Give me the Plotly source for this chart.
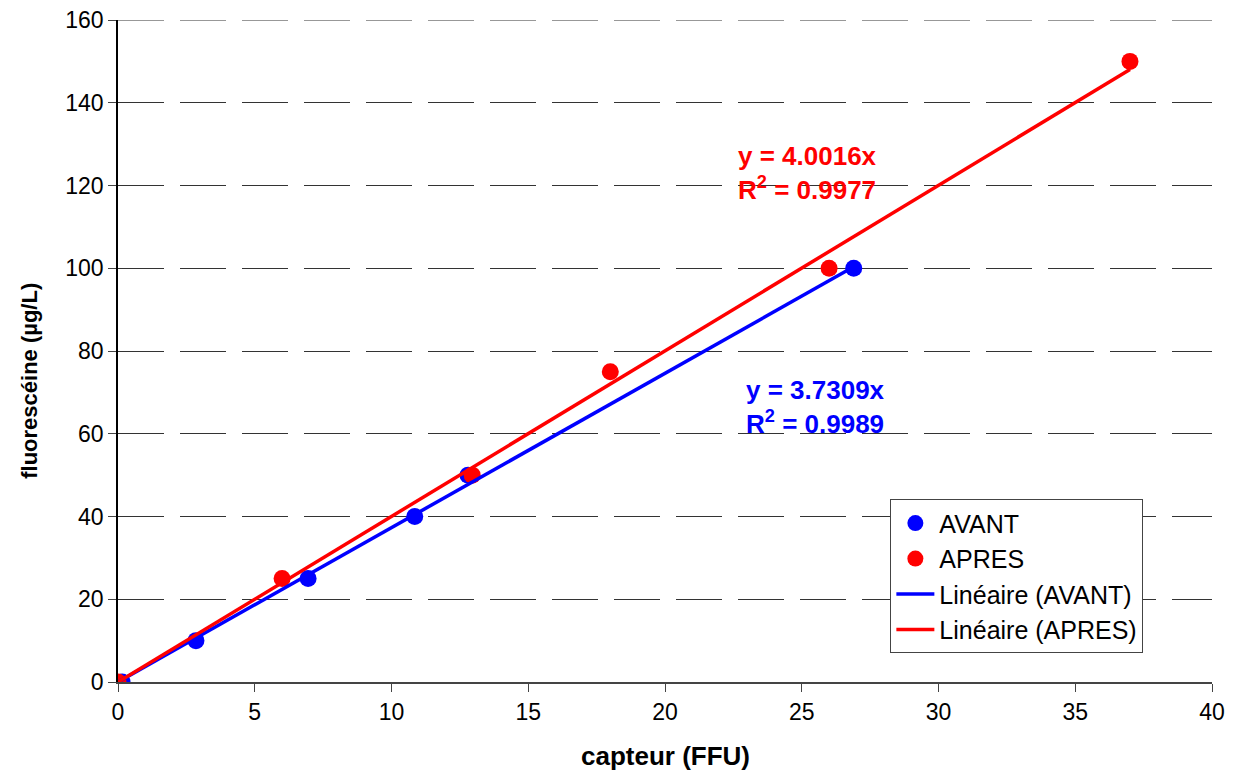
import plotly.graph_objects as go

avant_x = [0.15, 2.85, 6.95, 10.85, 12.8, 26.9]
avant_y = [0, 10, 25, 40, 50, 100]
apres_x = [0.0, 6.0, 12.95, 18.0, 26.0, 37.0]
apres_y = [0, 25, 50, 75, 100, 150]
slope_avant = 3.7309
slope_apres = 4.0016
r2_avant = 0.9989
r2_apres = 0.9977
x_ticks = [0, 5, 10, 15, 20, 25, 30, 35, 40]
y_ticks = [0, 20, 40, 60, 80, 100, 120, 140, 160]

fit_avant_x = [0, max(avant_x)]
fit_avant_y = [slope_avant * v for v in fit_avant_x]
fit_apres_x = [0, max(apres_x)]
fit_apres_y = [slope_apres * v for v in fit_apres_x]

font = "Liberation Sans, Arial, sans-serif"

fig = go.Figure()
fig.add_trace(go.Scatter(x=avant_x, y=avant_y, mode="markers", name="AVANT",
                         marker=dict(color="#0000ff", size=17), legendrank=1))
fig.add_trace(go.Scatter(x=apres_x, y=apres_y, mode="markers", name="APRES",
                         marker=dict(color="#ff0000", size=17), legendrank=2))
fig.add_trace(go.Scatter(x=fit_avant_x, y=fit_avant_y, mode="lines", name="Linéaire (AVANT)",
                         line=dict(color="#0000ff", width=3.5), legendrank=3))
fig.add_trace(go.Scatter(x=fit_apres_x, y=fit_apres_y, mode="lines", name="Linéaire (APRES)",
                         line=dict(color="#ff0000", width=3.5), legendrank=4))

# top gridline (plotly omits it at the range edge)
fig.add_shape(type="line", xref="paper", yref="y", x0=0, x1=1, y0=y_ticks[-1], y1=y_ticks[-1],
              line=dict(color="#333", width=1, dash="46px,16px"), layer="below")

fig.add_annotation(x=25.2, y=123, xref="x", yref="y", showarrow=False, align="left",
                   text=f"<b>y = {slope_apres:.4f}x<br>R<sup>2</sup> = {r2_apres:.4f}</b>",
                   font=dict(family=font, size=26, color="#ff0000"), xanchor="center", yanchor="middle")
fig.add_annotation(x=25.5, y=66.5, xref="x", yref="y", showarrow=False, align="left",
                   text=f"<b>y = {slope_avant:.4f}x<br>R<sup>2</sup> = {r2_avant:.4f}</b>",
                   font=dict(family=font, size=26, color="#0000ff"), xanchor="center", yanchor="middle")

# axis titles
fig.add_annotation(x=0.5, y=0, xref="paper", yref="paper", yshift=-74, showarrow=False,
                   text="<b>capteur (FFU)</b>", font=dict(family=font, size=26, color="black"),
                   xanchor="center", yanchor="middle")
fig.add_annotation(x=0, y=0.455, xref="paper", yref="paper", xshift=-88, showarrow=False,
                   text="<b>fluorescéine (µg/L)</b>", textangle=-90,
                   font=dict(family=font, size=22, color="black"),
                   xanchor="center", yanchor="middle")

fig.update_layout(
    width=1226, height=762,
    margin=dict(l=110, r=22, t=12, b=88, autoexpand=False),
    paper_bgcolor="white", plot_bgcolor="white",
    font=dict(family=font, size=23, color="black"),
    showlegend=True,
    legend=dict(x=0.706, y=0.276, xanchor="left", yanchor="top",
                bordercolor="#444", borderwidth=1, bgcolor="white",
                font=dict(family=font, size=25), tracegroupgap=0, itemwidth=38),
    xaxis=dict(range=[0, 40], tickvals=x_ticks, automargin=False, ticklabeloverflow="allow",
               showgrid=False, zeroline=False, showline=True, linecolor="#444", linewidth=2,
               ticks="outside", ticklen=8, tickcolor="#444"),
    yaxis=dict(range=[0, 160], tickvals=y_ticks, automargin=False, ticklabeloverflow="allow",
               showgrid=True, gridcolor="#333", gridwidth=1, griddash="46px,16px",
               zeroline=False, showline=True, linecolor="black", linewidth=1.5,
               ticks="outside", ticklen=8, tickcolor="#444"),
)

fig.write_html("out.html")
